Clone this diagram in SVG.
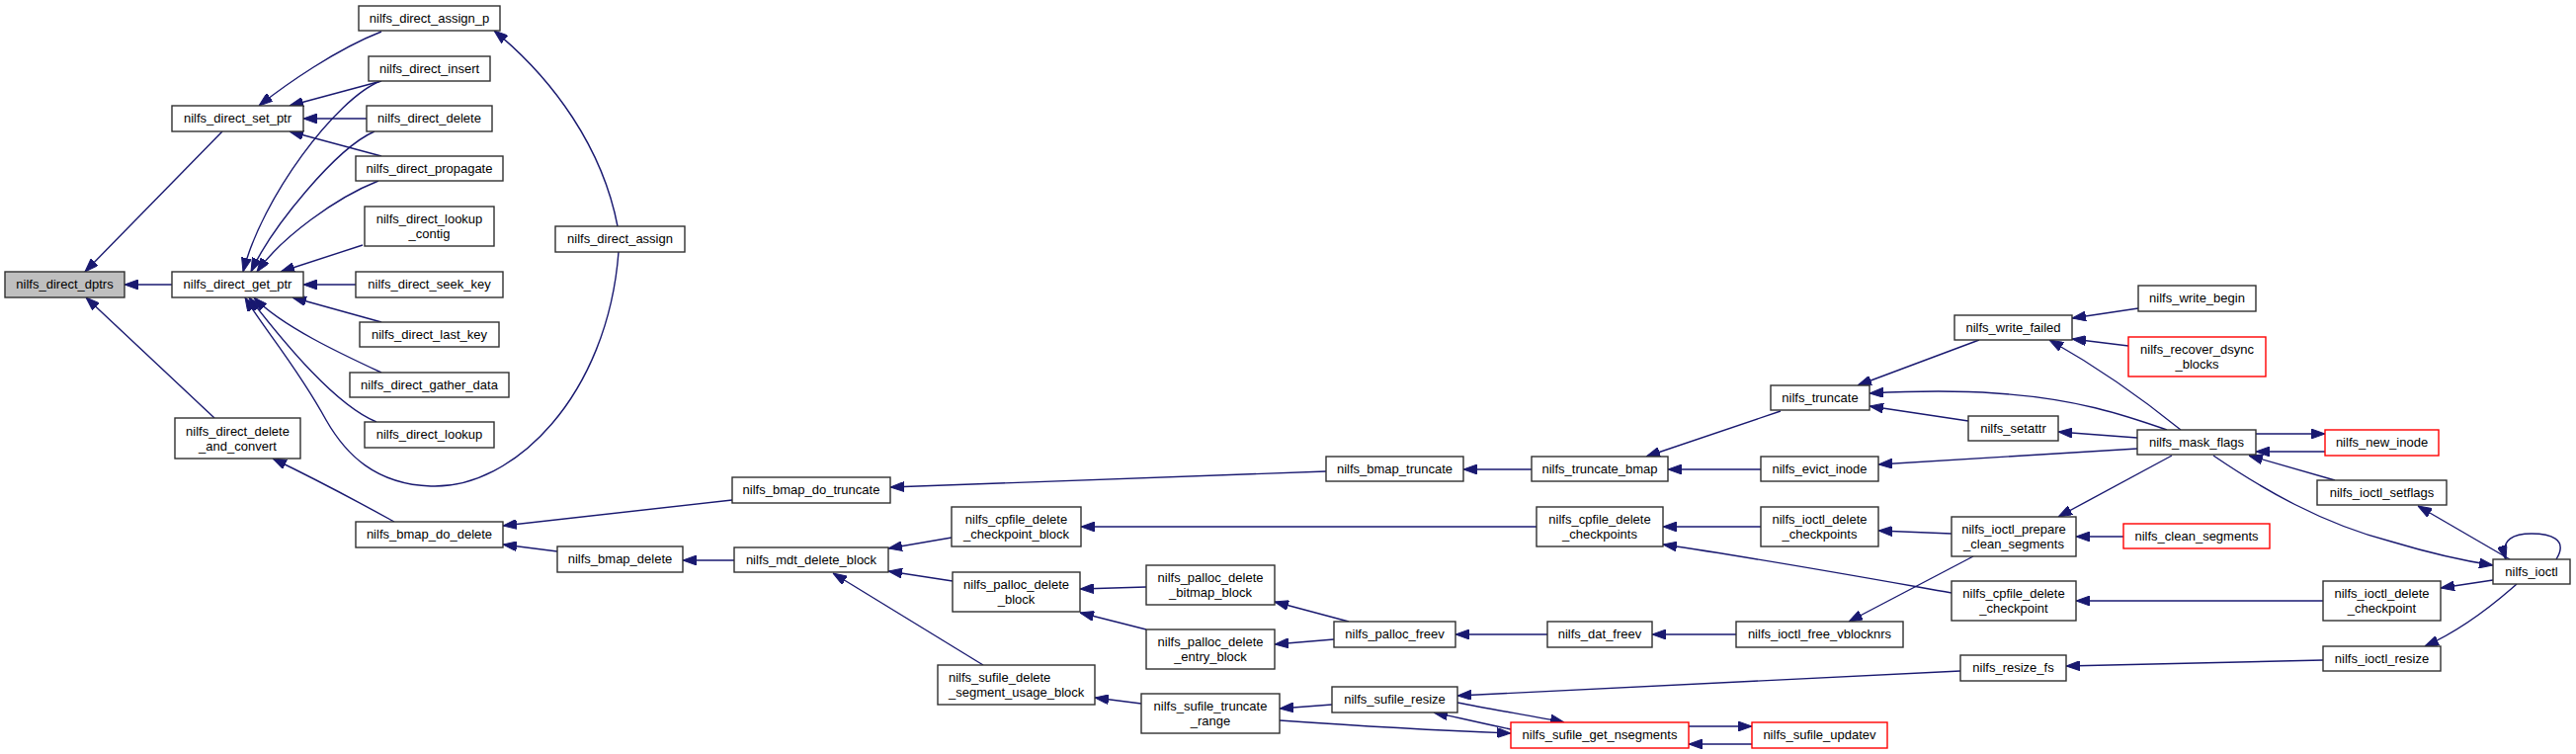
<svg xmlns="http://www.w3.org/2000/svg" width="2607" height="763" viewBox="0 0 2607 763">
<style>
.n rect{fill:#fff;stroke:#303030;stroke-width:1.4}
.n.r rect{stroke:#ff0000}
.n.g rect{fill:#bfbfbf}
.n text{font-family:"Liberation Sans",Arial,sans-serif;font-size:13px;fill:#000;text-anchor:middle}
#edges path{fill:none;stroke:#191970;stroke-width:1.4;marker-end:url(#ah)}
</style>
<defs>
<marker id="ah" viewBox="0 0 14 10" markerUnits="userSpaceOnUse" markerWidth="14" markerHeight="10" refX="14" refY="5" orient="auto">
<path d="M0,0 L14,5 L0,10 z" fill="#191970" stroke="#191970"/>
</marker>
</defs>
<rect width="2607" height="763" fill="#fff"/>
<g id="edges">
<path d="M225,133 L86,275"/>
<path d="M174,288 L126,288"/>
<path d="M217,423 L87,301"/>
<path d="M386,32 C340,50 290,85 262,107"/>
<path d="M386,82 L293,107"/>
<path d="M371,120 L307,120"/>
<path d="M386,158 L293,133"/>
<path d="M385,82 C340,100 265,200 246,275"/>
<path d="M379,133 C340,150 275,230 254,275"/>
<path d="M383,183 C340,200 285,240 260,275"/>
<path d="M367,248 L284,275"/>
<path d="M360,288 L307,288"/>
<path d="M386,326 L296,301"/>
<path d="M386,377 C345,358 285,330 257,301"/>
<path d="M381,427 C340,410 290,350 252,301"/>
<path d="M626,255 C615,400 520,495 436,492 C380,490 350,460 330,425 C300,370 265,330 248,301"/>
<path d="M625,229 C610,150 560,80 500,31"/>
<path d="M399,528 C370,512 330,490 276,464"/>
<path d="M741,506 L509,532"/>
<path d="M564,558 L509,551"/>
<path d="M743,567 L691,567"/>
<path d="M1342,477 L901,493"/>
<path d="M963,544 L899,555"/>
<path d="M964,588 L899,578"/>
<path d="M995,673 L843,580"/>
<path d="M1160,594 L1093,596"/>
<path d="M1160,637 L1093,620"/>
<path d="M1155,712 L1108,706"/>
<path d="M1365,629 L1290,609"/>
<path d="M1350,647 L1290,652"/>
<path d="M1348,713 L1295,717"/>
<path d="M1295,729 C1380,735 1450,739 1529,742"/>
<path d="M1475,711 C1510,718 1560,726 1583,731"/>
<path d="M1529,738 C1500,732 1480,727 1451,721"/>
<path d="M1709,735 L1773,735"/>
<path d="M1773,753 L1709,753"/>
<path d="M1984,679 L1475,704"/>
<path d="M1550,475 L1481,475"/>
<path d="M1802,416 L1666,462"/>
<path d="M1782,475 L1688,475"/>
<path d="M1555,533 L1094,533"/>
<path d="M1782,533 L1683,533"/>
<path d="M1975,600 C1890,585 1780,565 1683,551"/>
<path d="M1566,642 L1473,642"/>
<path d="M1757,642 L1672,642"/>
<path d="M1975,540 L1901,537"/>
<path d="M1997,563 L1871,629"/>
<path d="M2003,344 L1880,390"/>
<path d="M2164,312 L2097,322"/>
<path d="M2154,350 L2097,343"/>
<path d="M2207,435 C2170,405 2120,370 2074,344"/>
<path d="M2193,435 C2150,420 2100,403 2020,398 C1980,395 1930,396 1892,398"/>
<path d="M1992,426 L1892,411"/>
<path d="M2163,443 L2083,437"/>
<path d="M2163,454 L1901,470"/>
<path d="M2198,461 L2083,523"/>
<path d="M2149,543 L2101,543"/>
<path d="M2283,439 L2353,439"/>
<path d="M2353,457 L2283,457"/>
<path d="M2363,486 L2276,461"/>
<path d="M2240,461 C2290,495 2350,530 2420,548 C2460,560 2490,567 2523,572"/>
<path d="M2540,566 L2447,512"/>
<path d="M2587,566 C2600,545 2580,540 2562,540 C2545,540 2530,545 2536,566"/>
<path d="M2523,587 L2470,595"/>
<path d="M2351,608 L2101,608"/>
<path d="M2547,591 C2520,615 2490,638 2454,654"/>
<path d="M2351,668 L2091,674"/>
</g>
<g id="nilfs_direct_dptrs" class="n g"><rect x="5" y="275" width="121" height="26"/><text x="65.5" y="292">nilfs_direct_dptrs</text></g>
<g id="nilfs_direct_set_ptr" class="n"><rect x="174" y="107" width="133" height="26"/><text x="240.5" y="124">nilfs_direct_set_ptr</text></g>
<g id="nilfs_direct_get_ptr" class="n"><rect x="174" y="275" width="133" height="26"/><text x="240.5" y="292">nilfs_direct_get_ptr</text></g>
<g id="nilfs_direct_delete_and_convert" class="n"><rect x="177" y="423" width="127" height="41"/><text x="240.5" y="441">nilfs_direct_delete</text><text x="240.5" y="456">_and_convert</text></g>
<g id="nilfs_direct_assign_p" class="n"><rect x="363" y="6" width="143" height="25"/><text x="434.5" y="23">nilfs_direct_assign_p</text></g>
<g id="nilfs_direct_insert" class="n"><rect x="373" y="57" width="123" height="25"/><text x="434.5" y="74">nilfs_direct_insert</text></g>
<g id="nilfs_direct_delete" class="n"><rect x="371" y="107" width="127" height="26"/><text x="434.5" y="124">nilfs_direct_delete</text></g>
<g id="nilfs_direct_propagate" class="n"><rect x="360" y="158" width="149" height="25"/><text x="434.5" y="175">nilfs_direct_propagate</text></g>
<g id="nilfs_direct_lookup_contig" class="n"><rect x="369" y="209" width="131" height="40"/><text x="434.5" y="226">nilfs_direct_lookup</text><text x="434.5" y="241">_contig</text></g>
<g id="nilfs_direct_seek_key" class="n"><rect x="360" y="275" width="149" height="26"/><text x="434.5" y="292">nilfs_direct_seek_key</text></g>
<g id="nilfs_direct_last_key" class="n"><rect x="364" y="326" width="141" height="25"/><text x="434.5" y="343">nilfs_direct_last_key</text></g>
<g id="nilfs_direct_gather_data" class="n"><rect x="354" y="377" width="161" height="25"/><text x="434.5" y="394">nilfs_direct_gather_data</text></g>
<g id="nilfs_direct_lookup" class="n"><rect x="369" y="427" width="131" height="26"/><text x="434.5" y="444">nilfs_direct_lookup</text></g>
<g id="nilfs_bmap_do_delete" class="n"><rect x="360" y="528" width="149" height="26"/><text x="434.5" y="545">nilfs_bmap_do_delete</text></g>
<g id="nilfs_direct_assign" class="n"><rect x="562" y="229" width="131" height="26"/><text x="627.5" y="246">nilfs_direct_assign</text></g>
<g id="nilfs_bmap_delete" class="n"><rect x="564" y="553" width="127" height="26"/><text x="627.5" y="570">nilfs_bmap_delete</text></g>
<g id="nilfs_bmap_do_truncate" class="n"><rect x="741" y="483" width="160" height="26"/><text x="821" y="500">nilfs_bmap_do_truncate</text></g>
<g id="nilfs_mdt_delete_block" class="n"><rect x="743" y="554" width="156" height="25"/><text x="821" y="571">nilfs_mdt_delete_block</text></g>
<g id="nilfs_cpfile_delete_checkpoint_block" class="n"><rect x="963" y="513" width="131" height="40"/><text x="1028.5" y="530">nilfs_cpfile_delete</text><text x="1028.5" y="545">_checkpoint_block</text></g>
<g id="nilfs_palloc_delete_block" class="n"><rect x="964" y="579" width="129" height="40"/><text x="1028.5" y="596">nilfs_palloc_delete</text><text x="1028.5" y="611">_block</text></g>
<g id="nilfs_sufile_delete_segment_usage_block" class="n"><rect x="949" y="673" width="159" height="40"/><text x="960" y="690" style="text-anchor:start">nilfs_sufile_delete</text><text x="960" y="705" style="text-anchor:start">_segment_usage_block</text></g>
<g id="nilfs_palloc_delete_bitmap_block" class="n"><rect x="1160" y="572" width="130" height="40"/><text x="1225" y="589">nilfs_palloc_delete</text><text x="1225" y="604">_bitmap_block</text></g>
<g id="nilfs_palloc_delete_entry_block" class="n"><rect x="1160" y="637" width="130" height="40"/><text x="1225" y="654">nilfs_palloc_delete</text><text x="1225" y="669">_entry_block</text></g>
<g id="nilfs_sufile_truncate_range" class="n"><rect x="1155" y="702" width="140" height="40"/><text x="1225" y="719">nilfs_sufile_truncate</text><text x="1225" y="734">_range</text></g>
<g id="nilfs_bmap_truncate" class="n"><rect x="1342" y="462" width="139" height="25"/><text x="1411.5" y="479">nilfs_bmap_truncate</text></g>
<g id="nilfs_palloc_freev" class="n"><rect x="1350" y="629" width="123" height="26"/><text x="1411.5" y="646">nilfs_palloc_freev</text></g>
<g id="nilfs_sufile_resize" class="n"><rect x="1348" y="695" width="127" height="26"/><text x="1411.5" y="712">nilfs_sufile_resize</text></g>
<g id="nilfs_truncate_bmap" class="n"><rect x="1550" y="462" width="138" height="25"/><text x="1619" y="479">nilfs_truncate_bmap</text></g>
<g id="nilfs_cpfile_delete_checkpoints" class="n"><rect x="1555" y="513" width="128" height="40"/><text x="1619" y="530">nilfs_cpfile_delete</text><text x="1619" y="545">_checkpoints</text></g>
<g id="nilfs_dat_freev" class="n"><rect x="1566" y="629" width="106" height="26"/><text x="1619" y="646">nilfs_dat_freev</text></g>
<g id="nilfs_sufile_get_nsegments" class="n r"><rect x="1529" y="731" width="180" height="26"/><text x="1619" y="748">nilfs_sufile_get_nsegments</text></g>
<g id="nilfs_truncate" class="n"><rect x="1792" y="390" width="100" height="25"/><text x="1842" y="407">nilfs_truncate</text></g>
<g id="nilfs_evict_inode" class="n"><rect x="1782" y="462" width="119" height="25"/><text x="1841.5" y="479">nilfs_evict_inode</text></g>
<g id="nilfs_ioctl_delete_checkpoints" class="n"><rect x="1782" y="513" width="119" height="40"/><text x="1841.5" y="530">nilfs_ioctl_delete</text><text x="1841.5" y="545">_checkpoints</text></g>
<g id="nilfs_ioctl_free_vblocknrs" class="n"><rect x="1757" y="629" width="169" height="26"/><text x="1841.5" y="646">nilfs_ioctl_free_vblocknrs</text></g>
<g id="nilfs_sufile_updatev" class="n r"><rect x="1773" y="731" width="137" height="26"/><text x="1841.5" y="748">nilfs_sufile_updatev</text></g>
<g id="nilfs_write_failed" class="n"><rect x="1978" y="319" width="119" height="25"/><text x="2037.5" y="336">nilfs_write_failed</text></g>
<g id="nilfs_setattr" class="n"><rect x="1992" y="421" width="91" height="25"/><text x="2037.5" y="438">nilfs_setattr</text></g>
<g id="nilfs_ioctl_prepare_clean_segments" class="n"><rect x="1975" y="523" width="126" height="40"/><text x="2038" y="540">nilfs_ioctl_prepare</text><text x="2038" y="555">_clean_segments</text></g>
<g id="nilfs_cpfile_delete_checkpoint" class="n"><rect x="1975" y="588" width="126" height="40"/><text x="2038" y="605">nilfs_cpfile_delete</text><text x="2038" y="620">_checkpoint</text></g>
<g id="nilfs_resize_fs" class="n"><rect x="1984" y="663" width="107" height="26"/><text x="2037.5" y="680">nilfs_resize_fs</text></g>
<g id="nilfs_write_begin" class="n"><rect x="2164" y="289" width="119" height="26"/><text x="2223.5" y="306">nilfs_write_begin</text></g>
<g id="nilfs_recover_dsync_blocks" class="n r"><rect x="2154" y="341" width="139" height="40"/><text x="2223.5" y="358">nilfs_recover_dsync</text><text x="2223.5" y="373">_blocks</text></g>
<g id="nilfs_mask_flags" class="n"><rect x="2163" y="435" width="120" height="25"/><text x="2223" y="452">nilfs_mask_flags</text></g>
<g id="nilfs_clean_segments" class="n r"><rect x="2149" y="530" width="148" height="25"/><text x="2223" y="547">nilfs_clean_segments</text></g>
<g id="nilfs_new_inode" class="n r"><rect x="2353" y="435" width="115" height="26"/><text x="2410.5" y="452">nilfs_new_inode</text></g>
<g id="nilfs_ioctl_setflags" class="n"><rect x="2345" y="486" width="131" height="25"/><text x="2410.5" y="503">nilfs_ioctl_setflags</text></g>
<g id="nilfs_ioctl_delete_checkpoint" class="n"><rect x="2351" y="588" width="119" height="40"/><text x="2410.5" y="605">nilfs_ioctl_delete</text><text x="2410.5" y="620">_checkpoint</text></g>
<g id="nilfs_ioctl_resize" class="n"><rect x="2351" y="654" width="119" height="25"/><text x="2410.5" y="671">nilfs_ioctl_resize</text></g>
<g id="nilfs_ioctl" class="n"><rect x="2523" y="566" width="78" height="25"/><text x="2562" y="583">nilfs_ioctl</text></g>
</svg>
